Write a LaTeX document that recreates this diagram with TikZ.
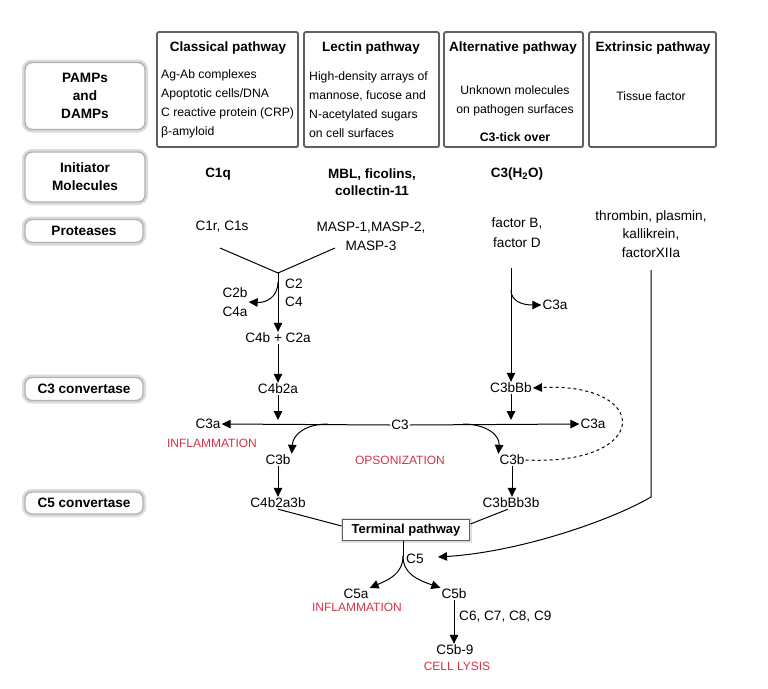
\documentclass[tikz,border=0pt]{standalone}
\usepackage{fontspec}
\setmainfont{Liberation Sans}
\usetikzlibrary{arrows.meta,shadows,calc}
\definecolor{lblred}{RGB}{214,50,70}
\definecolor{boxline}{RGB}{95,95,95}
\begin{document}
\begin{tikzpicture}[x=1pt,y=-1pt,
  t/.style={font=\fontsize{13.6}{19}\selectfont, inner sep=1pt, align=center},
  tb/.style={font=\fontsize{13.5}{17}\selectfont\bfseries, inner sep=1pt, align=center},
  bt/.style={font=\fontsize{12.2}{19}\selectfont, inner sep=0pt, align=left},
  btc/.style={font=\fontsize{12.2}{19}\selectfont, inner sep=0pt, align=center},
  rl/.style={font=\fontsize{12}{14}\selectfont, text=lblred, inner sep=1pt},
  pbox/.style={draw=boxline, line width=1.8pt, rounded corners=2pt, fill=white,
    minimum height=115pt, drop shadow={shadow xshift=1.2pt, shadow yshift=-1.2pt, opacity=0.3, fill=gray}},
  sbox/.style={preaction={draw=gray!28, line width=6pt}, draw=gray!60, line width=1.4pt,
    rounded corners=7pt, fill=white, font=\fontsize{13.6}{18}\selectfont\bfseries,
    align=center, inner sep=0pt},
  tbox/.style={draw=boxline, line width=1.8pt, fill=white, minimum width=127pt, minimum height=21pt,
    font=\fontsize{13}{15}\selectfont\bfseries, inner sep=0pt,
    preaction={draw=gray!25, line width=4pt}},
  arr/.style={-{Triangle[length=9pt,width=8.5pt]}, line width=1pt},
  ln/.style={line width=1pt}
]
\useasboundingbox (0,0) rectangle (768,688);

% ---- left row labels
\node[sbox, minimum width=120pt, minimum height=67pt] (pamps) at (85,96) {PAMPs\\and\\DAMPs};
\node[sbox, minimum width=120pt, minimum height=50pt] (initm) at (85,177) {Initiator\\Molecules};
\node[sbox, minimum width=118pt, minimum height=23pt] (prot) at (84,231) {Proteases};
\node[sbox, minimum width=118pt, minimum height=23pt] (c3conv) at (84,389) {C3 convertase};
\node[sbox, minimum width=118pt, minimum height=22pt] (c5conv) at (84,503) {C5 convertase};

% ---- pathway boxes
\node[pbox, minimum width=141pt] (bclass) at (227.5,89.5) {};
\node[pbox, minimum width=135pt] (blect) at (371.5,89.5) {};
\node[pbox, minimum width=139pt] (balt) at (513.5,89.5) {};
\node[pbox, minimum width=127pt] (bext) at (652.5,89.5) {};

\node[tb] (tclass) at (228,48) {Classical pathway};
\node[tb] (tlect) at (371,48) {Lectin pathway};
\node[tb] (talt) at (513,48) {Alternative pathway};
\node[tb] (text) at (653,48) {Extrinsic pathway};

\node[bt, anchor=west] (xclass) at (161,104) {Ag-Ab complexes\\Apoptotic cells/DNA\\C reactive protein (CRP)\\β-amyloid};
\node[bt, anchor=west] (xlect) at (309,105) {High-density arrays of\\mannose, fucose and\\N-acetylated sugars\\on cell surfaces};
\node[btc] (xalt) at (515,100.5) {Unknown molecules\\on pathogen surfaces};
\node[font=\fontsize{12.3}{15}\selectfont\bfseries, inner sep=1pt] (tick) at (515,137) {C3-tick over};
\node[btc] (xext) at (651,96) {Tissue factor};

% ---- initiators
\node[tb] (c1q) at (218,174) {C1q};
\node[tb] (mbl) at (372,182.5) {MBL, ficolins,\\collectin-11};
\node[tb] (c3h) at (517,174) {C3(H\textsubscript{2}O)};

% ---- proteases
\node[t] (c1r) at (222,227) {C1r, C1s};
\node[t] (masp) at (371,236.5) {MASP-1,MASP-2,\\MASP-3};
\node[t, font=\fontsize{13.6}{20}\selectfont] (fb) at (517,233) {factor B,\\factor D};
\node[t, font=\fontsize{13.6}{18.5}\selectfont] (thr) at (651,234) {thrombin, plasmin,\\kallikrein,\\factorXIIa};

% ---- classical / lectin branch
\coordinate (c1rl) at (220,248);
\coordinate (maspl) at (335,248);
\coordinate (j) at (278,273);
\coordinate (jc2) at (278,282);
\draw[ln] (c1rl) -- (j) -- (maspl);
\node[t, anchor=west] (lc2) at (284,284) {C2};
\node[t, anchor=west] (lc4) at (284,302) {C4};
\node[t] (c2b) at (235,302) {C2b\\C4a};
\node[t] (c4bc2a) at (278,338) {C4b + C2a};
\node[t] (c4b2a) at (278,389) {C4b2a};
\draw[arr] (j) -- (c4bc2a.north);
\draw[arr] (jc2) .. controls (278,297) and (266,303) .. (c2b.east);
\draw[arr] (c4bc2a.south) -- (c4b2a.north);

% ---- alternative branch
\coordinate (fbl) at (511,268);
\coordinate (fbc) at (511,290);
\node[t] (c3bbb) at (511,388) {C3bBb};
\node[t] (c3a1) at (555,305) {C3a};
\draw[arr] (fbl) -- (c3bbb.north);
\draw[arr] (fbc) .. controls (511,301) and (522,305) .. (c3a1.west);

% ---- C3 cleavage
\node[t] (c3) at (400,425) {C3};
\node[t] (c3al) at (208,424) {C3a};
\node[t] (c3ar) at (593,424) {C3a};
\draw[arr] (c3.west) -- (c3al.east);
\draw[arr] (c3.east) -- (c3ar.west);
\draw[arr] (c4b2a.south) -- ([yshift=5pt]c4b2a |- c3);
\draw[arr] (c3bbb.south) -- ([yshift=5pt]c3bbb |- c3);
\node[rl] (infl1) at (212,443) {INFLAMMATION};
\node[rl] (opso) at (400,460) {OPSONIZATION};
\node[t] (c3bl) at (278,460) {C3b};
\node[t] (c3br) at (512,460) {C3b};
\coordinate (sl) at (328,424);
\coordinate (sr) at (463,424);
\draw[arr] (sl) .. controls (306,424) and (293,434) .. (c3bl.north east);
\draw[arr] (sr) .. controls (486,424) and (500,435) .. (c3br.north west);
\draw[arr, dashed] (c3br.east) .. controls (652,466) and (652,382) .. (c3bbb.east);

% ---- C5 convertases
\node[t] (c4b2a3b) at (278,503) {C4b2a3b};
\node[t] (c3bbb3b) at (511,503) {C3bBb3b};
\draw[arr] (c3bl.south) -- (c4b2a3b.north);
\draw[arr] (c3br.south) -- (c3br.south |- c3bbb3b.north);

% ---- terminal pathway
\node[tbox] (term) at (406,530) {Terminal pathway};
\draw[ln] (c4b2a3b.south) -- ([yshift=4pt]term.west);
\draw[ln] ([xshift=-3pt]c3bbb3b.south) -- ([yshift=6pt]term.east);

\coordinate (thl) at (651,270);
\coordinate (thc) at (651,497);
\coordinate (c5in) at (438,557);
\draw[arr] (thl) -- (thc) .. controls (612,520) and (520,552) .. (c5in);

\coordinate (tsplit) at (403,556);
\node[t, anchor=west] (lc5) at (405,559) {C5};
\node[t] (c5a) at (356,594) {C5a};
\node[t] (c5b) at (454,594) {C5b};
\node[rl] (infl2) at (357,607) {INFLAMMATION};
\draw[ln] (term.south -| tsplit) -- (tsplit);
\draw[arr] (tsplit) .. controls (403,574) and (388,580) .. (c5a.north east);
\draw[arr] (tsplit) .. controls (403,574) and (418,580) .. (c5b.north west);
\node[t] (c5b9) at (455,650) {C5b-9};
\node[rl] (lysis) at (457,666) {CELL LYSIS};
\node[t, anchor=west] (c6) at (458,617) {C6, C7, C8, C9};
\draw[arr] (c5b.south) -- (c5b.south |- c5b9.north);
\end{tikzpicture}
\end{document}
